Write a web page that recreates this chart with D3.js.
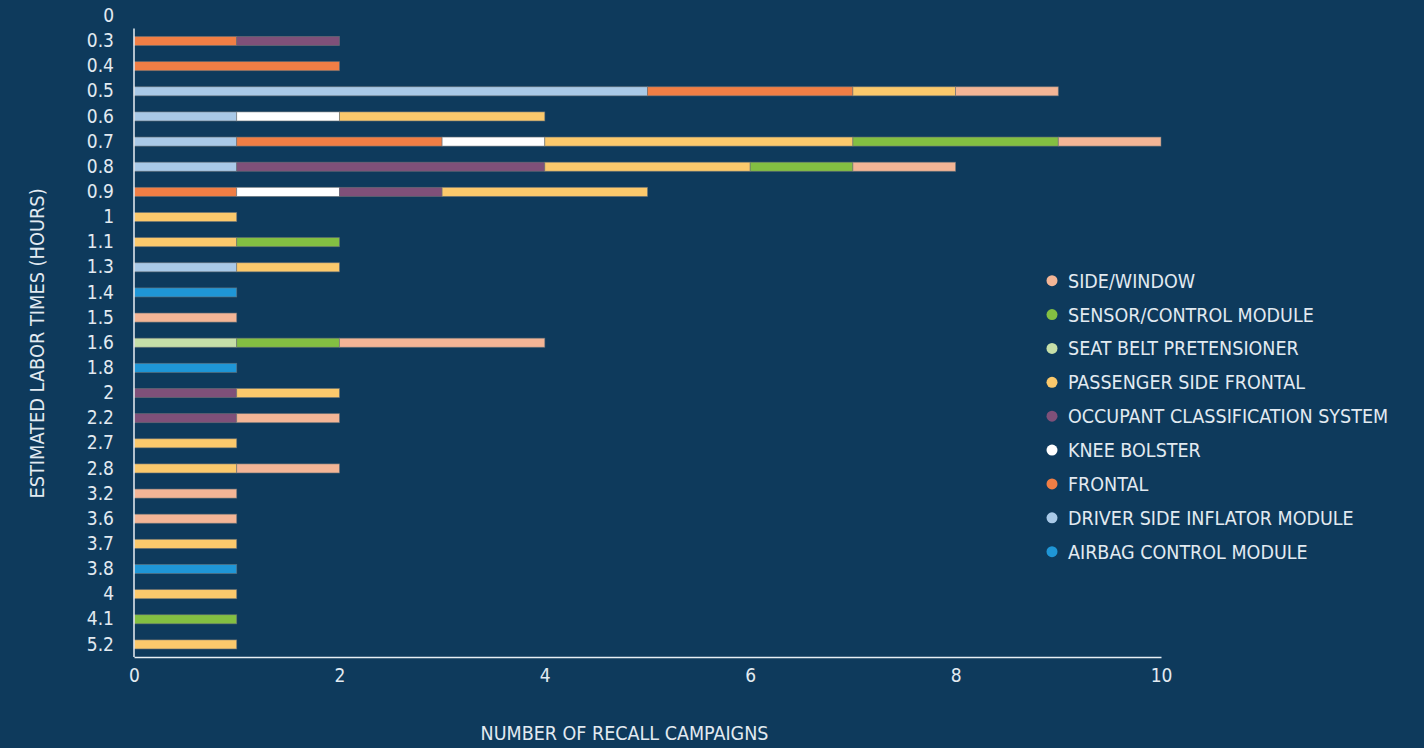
<!DOCTYPE html>
<html>
<head>
<meta charset="utf-8">
<script src="https://cdn.jsdelivr.net/npm/d3@7"></script>
<style>
  html, body { margin: 0; padding: 0; background: #0e3a5c; }
  svg { display: block; }
  text { font-family: "DejaVu Sans Condensed", "DejaVu Sans", "Liberation Sans Narrow", sans-serif; font-stretch: condensed; fill: #e2eaf1; }
</style>
</head>
<body>
<svg id="chart" width="1424" height="748"></svg>
<script>
const categories = ["0","0.3","0.4","0.5","0.6","0.7","0.8","0.9","1","1.1","1.3","1.4","1.5","1.6","1.8","2","2.2","2.7","2.8","3.2","3.6","3.7","3.8","4","4.1","5.2"];

// Series values per category (number of recall campaigns)
const airbagControlModule      = [0,0,0,0,0,0,0,0,0,0,0,1,0,0,1,0,0,0,0,0,0,0,1,0,0,0];
const driverSideInflatorModule = [0,0,0,5,1,1,1,0,0,0,1,0,0,0,0,0,0,0,0,0,0,0,0,0,0,0];
const frontal                  = [0,1,2,2,0,2,0,1,0,0,0,0,0,0,0,0,0,0,0,0,0,0,0,0,0,0];
const kneeBolster              = [0,0,0,0,1,1,0,1,0,0,0,0,0,0,0,0,0,0,0,0,0,0,0,0,0,0];
const occupantClassification   = [0,1,0,0,0,0,3,1,0,0,0,0,0,0,0,1,1,0,0,0,0,0,0,0,0,0];
const passengerSideFrontal     = [0,0,0,1,2,3,2,2,1,1,1,0,0,0,0,1,0,1,1,0,0,1,0,1,0,1];
const seatBeltPretensioner     = [0,0,0,0,0,0,0,0,0,0,0,0,0,1,0,0,0,0,0,0,0,0,0,0,0,0];
const sensorControlModule      = [0,0,0,0,0,2,1,0,0,1,0,0,0,1,0,0,0,0,0,0,0,0,0,0,1,0];
const sideWindow               = [0,0,0,1,0,1,1,0,0,0,0,0,1,2,0,0,1,0,1,1,1,0,0,0,0,0];

const seriesNames = ["AIRBAG CONTROL MODULE","DRIVER SIDE INFLATOR MODULE","FRONTAL","KNEE BOLSTER","OCCUPANT CLASSIFICATION SYSTEM","PASSENGER SIDE FRONTAL","SEAT BELT PRETENSIONER","SENSOR/CONTROL MODULE","SIDE/WINDOW"];
const seriesValues = [airbagControlModule, driverSideInflatorModule, frontal, kneeBolster, occupantClassification, passengerSideFrontal, seatBeltPretensioner, sensorControlModule, sideWindow];
const seriesColors = ["#1f96d6","#a9c9e7","#f07e45","#ffffff","#7f5079","#fbc96c","#c6dfa8","#83bf42","#f3b596"];

const xTicks = [0,2,4,6,8,10];

const svg = d3.select("#chart");
const plotLeft = 134, plotRight = 1161, plotTop = 3.3, plotBottom = 657;

const x = d3.scaleLinear().domain([0, 10]).range([plotLeft, plotRight]);
const y = d3.scaleBand().domain(categories).range([plotTop, plotBottom]).paddingInner(0.64).paddingOuter(0.32);

// build table
const table = categories.map((c, i) => {
  const row = { cat: c };
  seriesNames.forEach((s, j) => row[s] = seriesValues[j][i]);
  return row;
});
const stacked = d3.stack().keys(seriesNames)(table);

const g = svg.append("g");
stacked.forEach((layer, j) => {
  g.append("g").selectAll("rect")
    .data(layer.filter(d => d[1] - d[0] > 0))
    .join("rect")
    .attr("x", d => x(d[0]))
    .attr("width", d => x(d[1]) - x(d[0]))
    .attr("y", d => y(d.data.cat))
    .attr("height", y.bandwidth())
    .attr("fill", seriesColors[j])
    .attr("stroke", "rgba(110,115,120,0.7)")
    .attr("stroke-width", 0.8);
});

// Y axis
const yAxis = svg.append("g")
  .attr("transform", `translate(${plotLeft},0)`)
  .call(d3.axisLeft(y).tickSize(0).tickPadding(20));
yAxis.select(".domain").remove();
yAxis.selectAll("text").style("font-size", "19px").style("fill", "#e2eaf1");
svg.append("line")
  .attr("x1", plotLeft).attr("x2", plotLeft)
  .attr("y1", y(categories[1]) - (y.step() - y.bandwidth()) / 2)
  .attr("y2", plotBottom)
  .attr("stroke", "#e8eef3").attr("stroke-width", 1.5);

// X axis
const xAxis = svg.append("g")
  .attr("transform", `translate(0,${plotBottom})`)
  .call(d3.axisBottom(x).tickValues(xTicks).tickSize(0).tickPadding(12).tickFormat(d3.format("d")));
xAxis.select(".domain").attr("stroke", "#e8eef3").attr("stroke-width", 1.5);
xAxis.selectAll("text").style("font-size", "19px").style("fill", "#e2eaf1");

// Axis titles
svg.append("text")
  .attr("x", 624.5).attr("y", 740)
  .attr("text-anchor", "middle")
  .style("font-size", "19.5px")
  .text("NUMBER OF RECALL CAMPAIGNS");
svg.append("text")
  .attr("transform", "translate(44,343.5) rotate(-90)")
  .attr("text-anchor", "middle")
  .style("font-size", "19.8px")
  .text("ESTIMATED LABOR TIMES (HOURS)");

// Legend (reverse order)
const legendItems = seriesNames.map((s, j) => ({ name: s, color: seriesColors[j] })).reverse();
const lg = svg.append("g");
const legendY = d3.scalePoint().domain(legendItems.map(d => d.name)).range([280.7, 551.7]);
legendItems.forEach(d => {
  lg.append("circle").attr("cx", 1052).attr("cy", legendY(d.name)).attr("r", 5.5).attr("fill", d.color);
  lg.append("text").attr("x", 1068).attr("y", legendY(d.name)).attr("dy", "0.36em")
    .style("font-size", "19.5px").text(d.name);
});
</script>
</body>
</html>
